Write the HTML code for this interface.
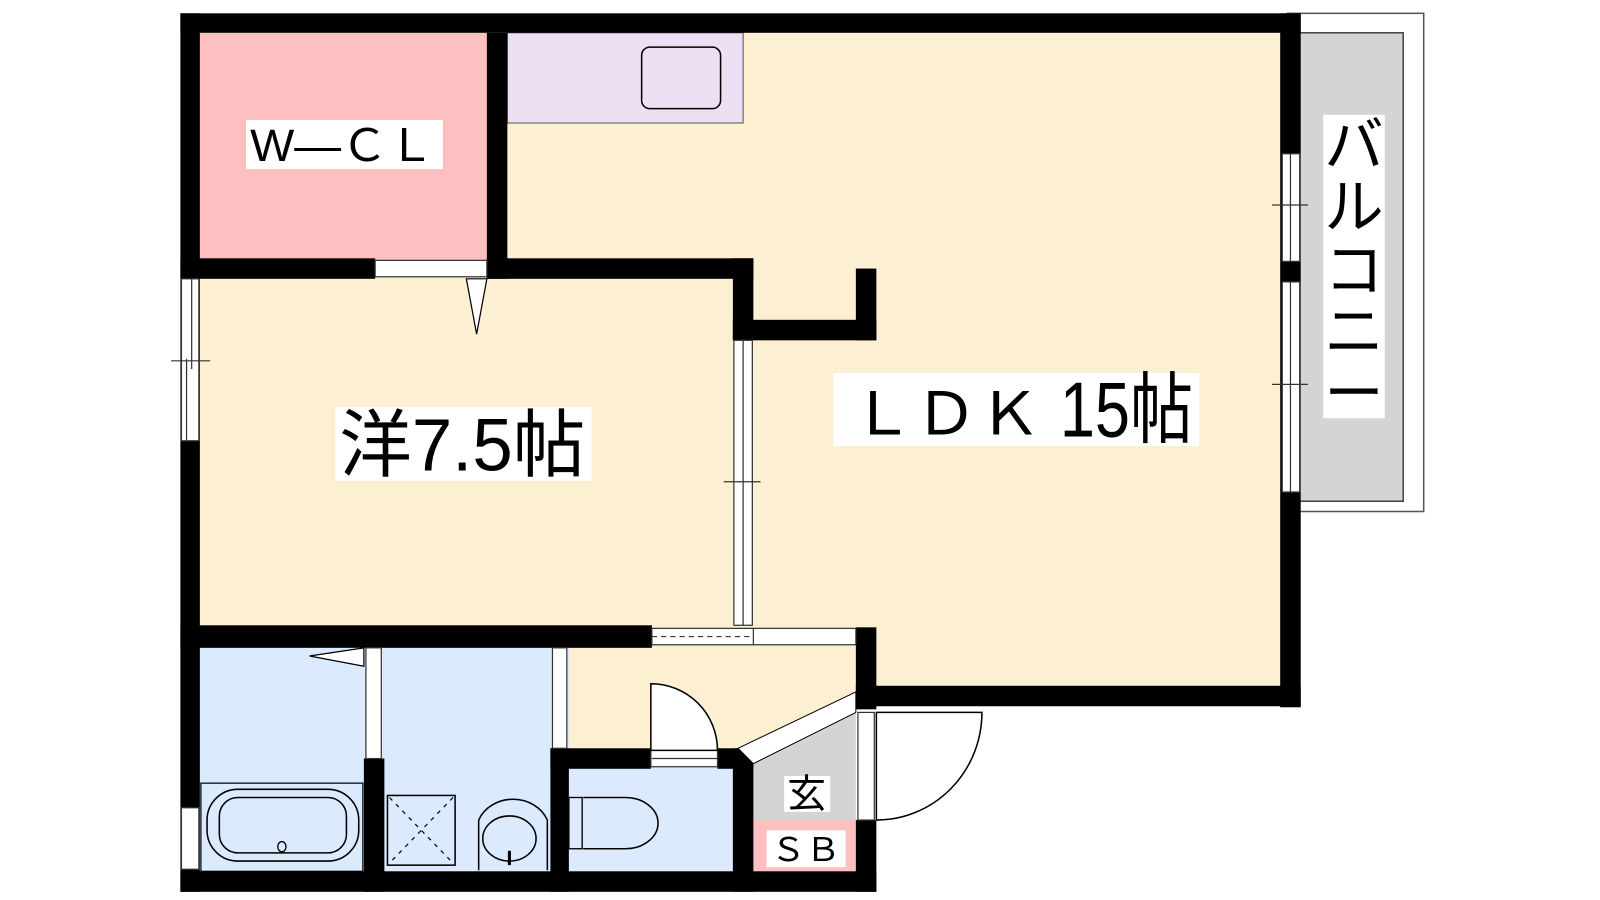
<!DOCTYPE html>
<html><head><meta charset="utf-8"><style>
html,body{margin:0;padding:0;background:#fff;width:1600px;height:900px;overflow:hidden}
svg{display:block}
text{font-family:"Liberation Sans","Noto Sans CJK JP",sans-serif}
</style></head><body>
<svg width="1600" height="900" viewBox="0 0 1561 878" preserveAspectRatio="none" xmlns="http://www.w3.org/2000/svg">
<!-- balcony -->
<rect x="1256" y="13" width="133" height="486" fill="#fff" stroke="#555" stroke-width="1.5"/>
<rect x="1266" y="32" width="103" height="457" fill="#d4d4d4" stroke="#444" stroke-width="1.5"/>
<!-- floors -->
<rect x="195" y="32" width="1056" height="640" fill="#fdf0d2"/>
<rect x="195" y="32" width="282" height="222" fill="#fdbfbf"/>
<rect x="495" y="32" width="230" height="88" fill="#ede0f5" stroke="#555" stroke-width="1"/>
<rect x="626" y="46" width="77" height="60" rx="8" fill="none" stroke="#000" stroke-width="1.5"/>
<rect x="195" y="630" width="540" height="222" fill="#dbeafd"/>
<rect x="555" y="630" width="282" height="102" fill="#fdf0d2"/>
<polygon points="735,745 837,690 837,800 735,800" fill="#d4d4d4"/>
<rect x="735" y="800" width="102" height="52" fill="#fdbfbf"/>
<rect x="835" y="670" width="420" height="182" fill="#fff"/>
<!-- walls -->
<g fill="#000">
<rect x="176" y="13" width="1093" height="19"/>
<rect x="176" y="13" width="19" height="857"/>
<rect x="1249" y="13" width="20" height="677"/>
<rect x="835" y="669" width="434" height="20"/>
<rect x="475" y="32" width="20" height="240"/>
<rect x="176" y="252" width="190" height="20"/>
<rect x="475" y="252" width="260" height="20"/>
<rect x="715" y="252" width="20" height="80"/>
<rect x="715" y="312" width="140" height="20"/>
<rect x="835" y="262" width="20" height="70"/>
<rect x="176" y="610" width="460" height="22"/>
<rect x="835" y="612" width="20" height="80"/>
<rect x="835" y="800" width="20" height="70"/>
<rect x="176" y="850" width="679" height="20"/>
<rect x="355" y="740" width="20" height="130"/>
<rect x="537" y="730" width="18" height="140"/>
<rect x="537" y="730" width="98" height="20"/>
<rect x="700" y="730" width="35" height="20"/>
<rect x="715" y="730" width="20" height="140"/>
</g>
<!-- windows / openings -->
<g fill="#fff" stroke="#333" stroke-width="1.2">
<rect x="366" y="254" width="109" height="16"/>
<rect x="177" y="272" width="17" height="158"/>
<rect x="716" y="332" width="18" height="278"/>
<rect x="636" y="613" width="199" height="16"/>
<rect x="1251" y="150" width="17" height="105"/>
<rect x="1251" y="275" width="17" height="205"/>
<rect x="357" y="632" width="15" height="108"/>
<rect x="539" y="632" width="14" height="98"/>
<rect x="635" y="732" width="65" height="16"/>
<rect x="837" y="695" width="16" height="105"/>
<rect x="177" y="788" width="17" height="60"/>
</g>
<g stroke="#333" stroke-width="1.2" fill="none">
<line x1="187" y1="272" x2="187" y2="360"/><line x1="182" y1="350" x2="182" y2="430"/>
<line x1="167" y1="352" x2="205" y2="352"/>
<line x1="725" y1="332" x2="725" y2="610"/><line x1="706" y1="470" x2="742" y2="470"/>
<line x1="636" y1="621" x2="735" y2="621" stroke-dasharray="5,4"/><line x1="735" y1="613" x2="735" y2="629"/>
<line x1="1259" y1="150" x2="1259" y2="255"/><line x1="1241" y1="200" x2="1276" y2="200"/>
<line x1="1259" y1="275" x2="1259" y2="480"/><line x1="1241" y1="375" x2="1276" y2="375"/>
<line x1="636" y1="740" x2="700" y2="740"/>
</g>
<!-- doors -->
<polygon points="455,272 475,272 465,326" fill="#fff" stroke="#000" stroke-width="1.2"/>
<polygon points="355,632 355,650 302,640" fill="#fff" stroke="#000" stroke-width="1.2"/>
<path d="M635,732 L635,667 A65,65 0 0 1 700,732 Z" fill="#fff" stroke="#000" stroke-width="1.5"/>
<path d="M855,800 L855,695 L958,695 A103,105 0 0 1 855,800" fill="#fff" stroke="#000" stroke-width="1.5"/>
<polygon points="720,730 835,675 835,695 735,745" fill="#fff" stroke="#000" stroke-width="1"/>
<!-- fixtures -->
<rect x="196" y="764" width="158" height="86" fill="none" stroke="#000" stroke-width="1.2"/>
<rect x="202" y="770" width="148" height="70" rx="30" fill="none" stroke="#000" stroke-width="1.5"/>
<rect x="214" y="778" width="124" height="54" rx="18" fill="none" stroke="#000" stroke-width="1.5"/>
<ellipse cx="275" cy="826" rx="4" ry="5" fill="none" stroke="#000" stroke-width="1.3"/>
<rect x="378" y="776" width="66" height="68" fill="none" stroke="#000" stroke-width="1.5"/>
<path d="M380,778 L442,842 M442,778 L380,842" stroke="#000" stroke-dasharray="4,5" stroke-width="1.2"/>
<path d="M467,849 L467,800 A36,32 0 0 1 534,800 L534,849" fill="none" stroke="#000" stroke-width="1.5"/>
<ellipse cx="497" cy="818" rx="26" ry="22" fill="none" stroke="#000" stroke-width="1.5"/>
<line x1="497" y1="830" x2="497" y2="844" stroke="#000" stroke-width="3"/>
<rect x="555" y="778" width="13" height="50" fill="none" stroke="#000" stroke-width="1.3"/>
<path d="M569,778 L610,778 A32,25 0 0 1 610,828 L569,828" fill="none" stroke="#000" stroke-width="1.5"/>
<!-- labels -->
<rect x="240" y="117" width="192" height="48" fill="#fff"/>
<text x="244" y="157" font-size="44" textLength="180" lengthAdjust="spacingAndGlyphs">W—ＣＬ</text>
<rect x="327" y="397" width="250" height="72" fill="#fff"/>
<text x="331" y="459" font-size="72" textLength="240" lengthAdjust="spacingAndGlyphs">洋7.5帖</text>
<rect x="813" y="364" width="357" height="71" fill="#fff"/>
<text x="830" y="424" font-size="58" textLength="186" lengthAdjust="spacingAndGlyphs">ＬＤＫ</text>
<text x="1034" y="426" font-size="76" textLength="130" lengthAdjust="spacingAndGlyphs">15帖</text>
<rect x="1291" y="112" width="60" height="296" fill="#fff"/>
<text font-size="58" text-anchor="middle"><tspan x="1321" y="162">バ</tspan><tspan x="1321" y="222">ル</tspan><tspan x="1321" y="284">コ</tspan><tspan x="1321" y="344">ニ</tspan><tspan x="1321" y="404">ー</tspan></text>
<rect x="765" y="757" width="45" height="35" fill="#fff"/>
<text x="787" y="788" font-size="38" text-anchor="middle">玄</text>
<rect x="748" y="810" width="77" height="36" fill="#fff"/>
<text x="752" y="840" font-size="32" textLength="68" lengthAdjust="spacingAndGlyphs">ＳＢ</text>
</svg>
</body></html>
